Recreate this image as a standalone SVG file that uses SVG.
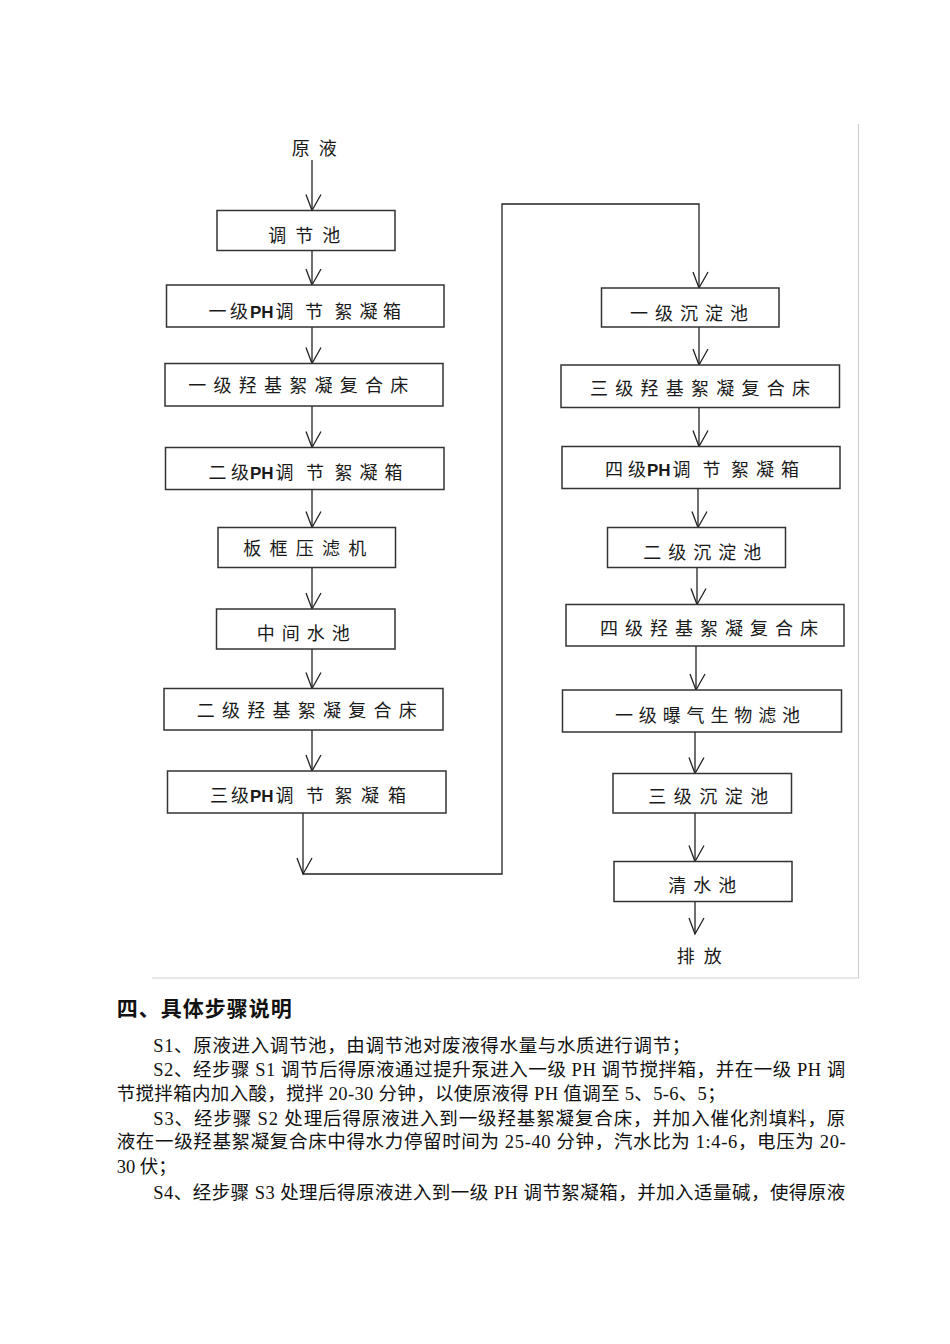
<svg xmlns="http://www.w3.org/2000/svg" width="950" height="1344" viewBox="0 0 950 1344">
<style>
.box{fill:#fff;stroke:#333;stroke-width:1.5}
.ln{fill:none;stroke:#222;stroke-width:1.3}
.frame{fill:none;stroke:#cfcfcf;stroke-width:1.2}
.ft{font-family:"Noto Sans CJK SC","Noto Sans",sans-serif;font-size:18px;fill:#1a1a1a}
.ph{font-family:"Liberation Sans","Noto Sans",sans-serif;font-size:17px;font-weight:bold}
.hd{font-family:"Liberation Serif","Noto Sans CJK SC",serif;font-size:21px;font-weight:bold;fill:#111}
.bt{font-family:"Liberation Serif","Noto Sans CJK SC",serif;font-size:18.5px;fill:#111}
</style>
<defs>
<marker id="v" markerUnits="userSpaceOnUse" markerWidth="40" markerHeight="40" refX="0" refY="0" viewBox="-20 -20 40 40" orient="auto" overflow="visible">
<path d="M-16,6 L0,0 L-16,-9" fill="none" stroke="#222" stroke-width="1.3"/>
</marker>
</defs>
<g id="frame">
<path class="frame" d="M858.5,124 V978 H152"/>
</g>
<g id="connectors">
<path class="ln" marker-end="url(#v)" d="M312,160 V210.5"/>
<path class="ln" marker-end="url(#v)" d="M312,250.5 V285"/>
<path class="ln" marker-end="url(#v)" d="M312,327 V363.5"/>
<path class="ln" marker-end="url(#v)" d="M312,406 V447.5"/>
<path class="ln" marker-end="url(#v)" d="M312,489.5 V527.5"/>
<path class="ln" marker-end="url(#v)" d="M312,567.5 V609"/>
<path class="ln" marker-end="url(#v)" d="M312,649 V688.5"/>
<path class="ln" marker-end="url(#v)" d="M312,730 V771"/>
<path class="ln" marker-end="url(#v)" d="M303,813 V874"/>
<path class="ln" marker-end="url(#v)" d="M303,874 H502 V204 H699 V288"/>
<path class="ln" marker-end="url(#v)" d="M699,327 V365"/>
<path class="ln" marker-end="url(#v)" d="M699,407.5 V446.5"/>
<path class="ln" marker-end="url(#v)" d="M698,488.5 V527.5"/>
<path class="ln" marker-end="url(#v)" d="M697,567.5 V604.5"/>
<path class="ln" marker-end="url(#v)" d="M696,646 V690"/>
<path class="ln" marker-end="url(#v)" d="M695,732 V773.5"/>
<path class="ln" marker-end="url(#v)" d="M695,813 V861.5"/>
<path class="ln" marker-end="url(#v)" d="M695,901.5 V934"/>
</g>
<g id="n_yuanye"><text class="ft" x="291.7" y="155" textLength="45" lengthAdjust="spacing">原液</text></g>
<g id="n_tiaojiechi"><rect class="box" x="217" y="210.5" width="178" height="40"/><text class="ft" x="268.3" y="242" textLength="72" lengthAdjust="spacing">调节池</text></g>
<g id="n_ph1"><rect class="box" x="166.5" y="285" width="277.5" height="42"/><text class="ft" y="317.5"><tspan x="208.5 230">一级</tspan><tspan class="ph" x="250">PH</tspan><tspan x="275.5 305 334.5 359.5 383">调节絮凝箱</tspan></text></g>
<g id="n_qj1"><rect class="box" x="165" y="363.5" width="278" height="42.5"/><text class="ft" x="188.3" y="391.5" textLength="220" lengthAdjust="spacing">一级羟基絮凝复合床</text></g>
<g id="n_ph2"><rect class="box" x="165.5" y="447.5" width="278.5" height="42"/><text class="ft" y="478.7"><tspan x="208.5 231">二级</tspan><tspan class="ph" x="250">PH</tspan><tspan x="275.5 306 334.5 359.5 384.5">调节絮凝箱</tspan></text></g>
<g id="n_bk"><rect class="box" x="218" y="527.5" width="177.5" height="40"/><text class="ft" x="243.3" y="555" textLength="123" lengthAdjust="spacing">板框压滤机</text></g>
<g id="n_zjsc"><rect class="box" x="216.5" y="609" width="178.5" height="40"/><text class="ft" x="256.7" y="640.3" textLength="93" lengthAdjust="spacing">中间水池</text></g>
<g id="n_qj2"><rect class="box" x="164" y="688.5" width="279" height="41.5"/><text class="ft" x="196.7" y="717.3" textLength="220" lengthAdjust="spacing">二级羟基絮凝复合床</text></g>
<g id="n_ph3"><rect class="box" x="167.5" y="771" width="278.5" height="42"/><text class="ft" y="802"><tspan x="210 231">三级</tspan><tspan class="ph" x="250">PH</tspan><tspan x="275.5 306 334.5 361 388">调节絮凝箱</tspan></text></g>
<g id="n_cd1"><rect class="box" x="601.5" y="288" width="177.5" height="39"/><text class="ft" x="630" y="319.8" textLength="118" lengthAdjust="spacing">一级沉淀池</text></g>
<g id="n_qj3"><rect class="box" x="561" y="365" width="278.5" height="42.5"/><text class="ft" x="590" y="394.5" textLength="220" lengthAdjust="spacing">三级羟基絮凝复合床</text></g>
<g id="n_ph4"><rect class="box" x="562" y="446.5" width="278" height="42"/><text class="ft" y="476"><tspan x="605 628">四级</tspan><tspan class="ph" x="647">PH</tspan><tspan x="672.5 702.5 731 756 781">调节絮凝箱</tspan></text></g>
<g id="n_cd2"><rect class="box" x="607.5" y="527.5" width="178" height="40"/><text class="ft" x="643.3" y="558.7" textLength="118" lengthAdjust="spacing">二级沉淀池</text></g>
<g id="n_qj4"><rect class="box" x="566" y="604.5" width="278" height="41.5"/><text class="ft" x="600" y="635" textLength="218" lengthAdjust="spacing">四级羟基絮凝复合床</text></g>
<g id="n_bq1"><rect class="box" x="562.5" y="690" width="279" height="42"/><text class="ft" x="615" y="721.7" textLength="185" lengthAdjust="spacing">一级曝气生物滤池</text></g>
<g id="n_cd3"><rect class="box" x="613" y="773.5" width="178.5" height="39.5"/><text class="ft" x="648.3" y="803" textLength="120" lengthAdjust="spacing">三级沉淀池</text></g>
<g id="n_qsc"><rect class="box" x="614" y="861.5" width="178" height="40"/><text class="ft" x="668.3" y="892.3" textLength="68" lengthAdjust="spacing">清水池</text></g>
<g id="n_pf"><text class="ft" x="676.7" y="963" textLength="45" lengthAdjust="spacing">排放</text></g>
<g id="body">
<text class="hd" x="116.7" y="1016" textLength="175" lengthAdjust="spacing">四、具体步骤说明</text>
<text class="bt" x="153.3" y="1051.5" textLength="537" lengthAdjust="spacing">S1、原液进入调节池，由调节池对废液得水量与水质进行调节；</text>
<text class="bt" x="153.3" y="1075.5" textLength="692" lengthAdjust="spacing">S2、经步骤 S1 调节后得原液通过提升泵进入一级 PH 调节搅拌箱，并在一级 PH 调</text>
<text class="bt" x="116.7" y="1099.5" textLength="609" lengthAdjust="spacing">节搅拌箱内加入酸，搅拌 20-30 分钟，以使原液得 PH 值调至 5、5-6、5；</text>
<text class="bt" x="153.3" y="1124.5" textLength="692" lengthAdjust="spacing">S3、经步骤 S2 处理后得原液进入到一级羟基絮凝复合床，并加入催化剂填料，原</text>
<text class="bt" x="116.7" y="1148" textLength="729" lengthAdjust="spacing">液在一级羟基絮凝复合床中得水力停留时间为 25-40 分钟，汽水比为 1:4-6，电压为 20-</text>
<text class="bt" x="116.7" y="1173">30 伏；</text>
<text class="bt" x="153.3" y="1199" textLength="692" lengthAdjust="spacing">S4、经步骤 S3 处理后得原液进入到一级 PH 调节絮凝箱，并加入适量碱，使得原液</text>
</g>
</svg>
